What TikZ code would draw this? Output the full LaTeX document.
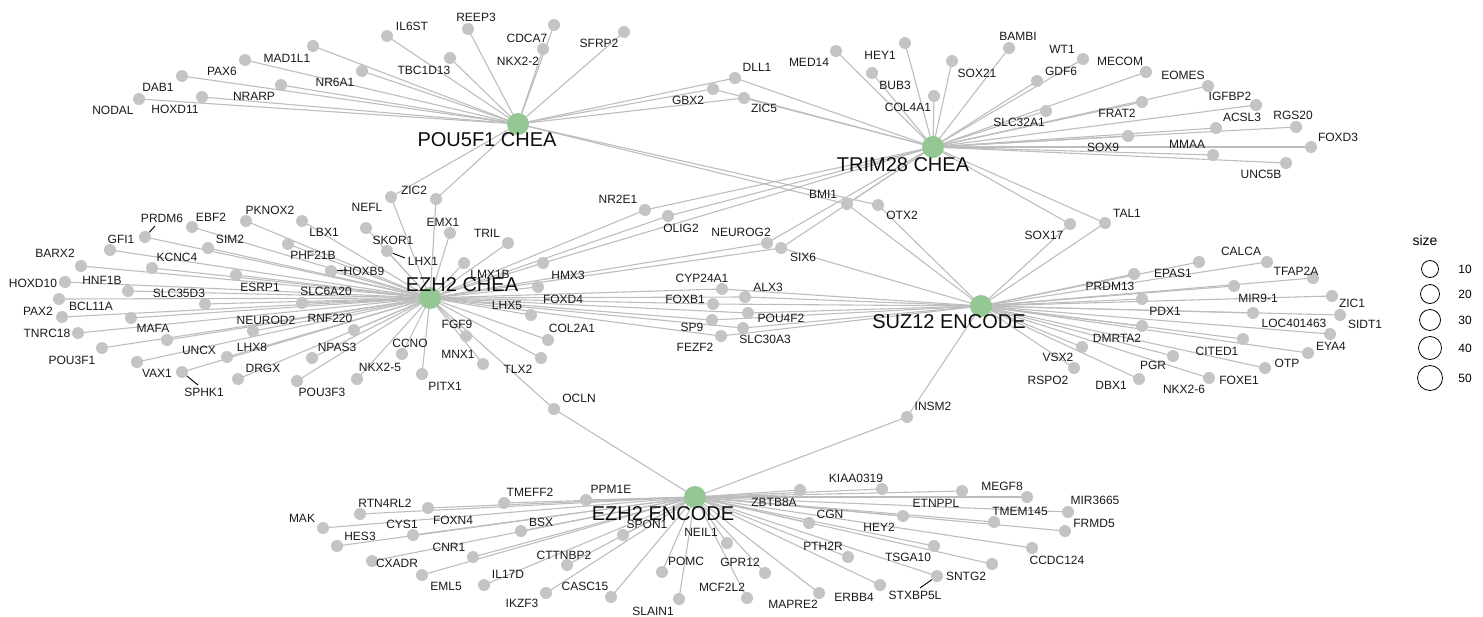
\documentclass[tikz,border=0pt]{standalone}
\usepackage{fontspec}
\setmainfont{Liberation Sans}
\definecolor{nodegray}{HTML}{C4C4C4}
\definecolor{edgegray}{HTML}{BDBDBD}
\definecolor{hubgreen}{HTML}{95C795}
\pgfdeclarelayer{bg}
\pgfsetlayers{bg,main}
\tikzset{
 gene/.style={circle, fill=nodegray, inner sep=0pt, minimum size=12pt},
 hub/.style={circle, fill=hubgreen, inner sep=0pt, minimum size=22pt},
 lab/.style={font=\fontsize{12}{12}\selectfont, inner sep=0pt, text=black!90},
 hublab/.style={font=\fontsize{20}{22}\selectfont, inner sep=0pt, text=black!95},
 edge/.style={draw=edgegray, line width=1.1pt},
 seg/.style={draw=black, line width=0.9pt},
 legcirc/.style={circle, draw=black, line width=0.8pt, fill=white, inner sep=0pt},
 leglab/.style={font=\fontsize{12}{12}\selectfont, inner sep=0pt},
}
\begin{document}
\begin{tikzpicture}[x=1pt,y=-1pt]
\useasboundingbox (0,0) rectangle (1483,616);
% hubs
\node[hub] (P) at (518,124) {};
\node[hub] (T) at (933,147) {};
\node[hub] (E) at (430,298) {};
\node[hub] (S) at (981,306) {};
\node[hub] (EE) at (695,497) {};
% ---------- POU5F1 leaves
\node[gene] (MAD1L1) at (313,46) {};   \node[lab] (MAD1L1-l) at (287,58) {MAD1L1};
\node[gene] (PAX6) at (245,60) {};     \node[lab] (PAX6-l) at (222,71) {PAX6};
\node[gene] (DAB1) at (182,76) {};     \node[lab] (DAB1-l) at (158,87) {DAB1};
\node[gene] (NODAL) at (139,99) {};    \node[lab] (NODAL-l) at (113,110) {NODAL};
\node[gene] (HOXD11) at (202,97) {};   \node[lab] (HOXD11-l) at (175,109) {HOXD11};
\node[gene] (NRARP) at (281,85) {};    \node[lab] (NRARP-l) at (254,96) {NRARP};
\node[gene] (NR6A1) at (362,71) {};    \node[lab] (NR6A1-l) at (335,82) {NR6A1};
\node[gene] (IL6ST) at (387,36) {};    \node[lab] (IL6ST-l) at (412,26) {IL6ST};
\node[gene] (REEP3) at (468,29) {};    \node[lab] (REEP3-l) at (476,17) {REEP3};
\node[gene] (CDCA7) at (554,25) {};    \node[lab] (CDCA7-l) at (527,38) {CDCA7};
\node[gene] (NKX2-2) at (543,49) {};   \node[lab] (NKX2-2-l) at (518,61) {NKX2-2};
\node[gene] (SFRP2) at (624,32) {};    \node[lab] (SFRP2-l) at (599,43) {SFRP2};
\node[gene] (TBC1D13) at (450,58) {};  \node[lab] (TBC1D13-l) at (424,70) {TBC1D13};
\node[gene] (DLL1) at (735,78) {};     \node[lab] (DLL1-l) at (757,67) {DLL1};
\node[gene] (GBX2) at (713,89) {};     \node[lab] (GBX2-l) at (688,100) {GBX2};
\node[gene] (ZIC5) at (744,98) {};     \node[lab] (ZIC5-l) at (764,108) {ZIC5};
\node[gene] (ZIC2) at (436,199) {};    \node[lab] (ZIC2-l) at (414,190) {ZIC2};
\node[gene] (NEFL) at (391,197) {};    \node[lab] (NEFL-l) at (367,207) {NEFL};
\node[gene] (BMI1) at (847,204) {};    \node[lab] (BMI1-l) at (823,194) {BMI1};
\node[gene] (OTX2) at (878,205) {};    \node[lab] (OTX2-l) at (902,215) {OTX2};
% ---------- TRIM28 leaves
\node[gene] (MED14) at (836,51) {};    \node[lab] (MED14-l) at (809,62) {MED14};
\node[gene] (HEY1) at (905,43) {};     \node[lab] (HEY1-l) at (880,55) {HEY1};
\node[gene] (BUB3) at (872,73) {};     \node[lab] (BUB3-l) at (895,85) {BUB3};
\node[gene] (COL4A1) at (934,96) {};   \node[lab] (COL4A1-l) at (908,107) {COL4A1};
\node[gene] (SOX21) at (952,61) {};    \node[lab] (SOX21-l) at (977,73) {SOX21};
\node[gene] (BAMBI) at (1009,48) {};   \node[lab] (BAMBI-l) at (1018,36) {BAMBI};
\node[gene] (WT1) at (1083,59) {};     \node[lab] (WT1-l) at (1062,49) {WT1};
\node[gene] (GDF6) at (1037,81) {};    \node[lab] (GDF6-l) at (1061,71) {GDF6};
\node[gene] (MECOM) at (1146,72) {};   \node[lab] (MECOM-l) at (1120,61) {MECOM};
\node[gene] (SLC32A1) at (1046,111) {};\node[lab] (SLC32A1-l) at (1019,122) {SLC32A1};
\node[gene] (FRAT2) at (1142,102) {};  \node[lab] (FRAT2-l) at (1117,113) {FRAT2};
\node[gene] (EOMES) at (1208,86) {};   \node[lab] (EOMES-l) at (1183,75) {EOMES};
\node[gene] (IGFBP2) at (1256,105) {}; \node[lab] (IGFBP2-l) at (1230,96) {IGFBP2};
\node[gene] (ACSL3) at (1216,128) {};  \node[lab] (ACSL3-l) at (1242,117) {ACSL3};
\node[gene] (RGS20) at (1296,127) {};  \node[lab] (RGS20-l) at (1293,115) {RGS20};
\node[gene] (FOXD3) at (1311,147) {};  \node[lab] (FOXD3-l) at (1338,137) {FOXD3};
\node[gene] (MMAA) at (1213,155) {};   \node[lab] (MMAA-l) at (1187,144) {MMAA};
\node[gene] (UNC5B) at (1286,163) {};  \node[lab] (UNC5B-l) at (1261,174) {UNC5B};
\node[gene] (SOX9) at (1128,136) {};   \node[lab] (SOX9-l) at (1103,147) {SOX9};
\node[gene] (SOX17) at (1070,224) {};  \node[lab] (SOX17-l) at (1044,235) {SOX17};
\node[gene] (TAL1) at (1105,223) {};   \node[lab] (TAL1-l) at (1127,213) {TAL1};
\node[gene] (NR2E1) at (645,210) {};   \node[lab] (NR2E1-l) at (618,199) {NR2E1};
\node[gene] (OLIG2) at (668,216) {};   \node[lab] (OLIG2-l) at (681,228) {OLIG2};
\node[gene] (HMX3) at (543,263) {};    \node[lab] (HMX3-l) at (568,275) {HMX3};
\node[gene] (NEUROG2) at (767,243) {}; \node[lab] (NEUROG2-l) at (741,232) {NEUROG2};
\node[gene] (SIX6) at (781,248) {};    \node[lab] (SIX6-l) at (803,257) {SIX6};
% ---------- EZH2 CHEA leaves
\node[gene] (LMX1B) at (464,263) {};   \node[lab] (LMX1B-l) at (490,274) {LMX1B};
\node[gene] (EMX1) at (450,233) {};    \node[lab] (EMX1-l) at (443,222) {EMX1};
\node[gene] (TRIL) at (508,243) {};    \node[lab] (TRIL-l) at (487,233) {TRIL};
\node[gene] (SKOR1) at (366,228) {};   \node[lab] (SKOR1-l) at (393,240) {SKOR1};
\node[gene] (LHX1) at (387,251) {};    \node[lab] (LHX1-l) at (423,261) {LHX1};
\node[gene] (LBX1) at (302,221) {};    \node[lab] (LBX1-l) at (324,232) {LBX1};
\node[gene] (PKNOX2) at (246,221) {};  \node[lab] (PKNOX2-l) at (270,210) {PKNOX2};
\node[gene] (EBF2) at (192,227) {};    \node[lab] (EBF2-l) at (211,217) {EBF2};
\node[gene] (PRDM6) at (145,237) {};   \node[lab] (PRDM6-l) at (162,218) {PRDM6};
\node[gene] (GFI1) at (110,250) {};    \node[lab] (GFI1-l) at (121,239) {GFI1};
\node[gene] (SIM2) at (208,248) {};    \node[lab] (SIM2-l) at (230,239) {SIM2};
\node[gene] (BARX2) at (81,266) {};    \node[lab] (BARX2-l) at (55,253) {BARX2};
\node[gene] (KCNC4) at (152,268) {};   \node[lab] (KCNC4-l) at (177,257) {KCNC4};
\node[gene] (PHF21B) at (288,244) {};  \node[lab] (PHF21B-l) at (313,255) {PHF21B};
\node[gene] (HOXB9) at (331,271) {};   \node[lab] (HOXB9-l) at (364,271) {HOXB9};
\node[gene] (HOXD10) at (65,282) {};   \node[lab] (HOXD10-l) at (33,283) {HOXD10};
\node[gene] (HNF1B) at (128,291) {};   \node[lab] (HNF1B-l) at (102,280) {HNF1B};
\node[gene] (ESRP1) at (236,275) {};   \node[lab] (ESRP1-l) at (260,287) {ESRP1};
\node[gene] (SLC35D3) at (205,304) {}; \node[lab] (SLC35D3-l) at (179,293) {SLC35D3};
\node[gene] (SLC6A20) at (302,303) {}; \node[lab] (SLC6A20-l) at (326,291) {SLC6A20};
\node[gene] (BCL11A) at (59,299) {};   \node[lab] (BCL11A-l) at (91,306) {BCL11A};
\node[gene] (PAX2) at (62,317) {};     \node[lab] (PAX2-l) at (38,311) {PAX2};
\node[gene] (TNRC18) at (78,333) {};   \node[lab] (TNRC18-l) at (47,333) {TNRC18};
\node[gene] (MAFA) at (131,318) {};    \node[lab] (MAFA-l) at (153,328) {MAFA};
\node[gene] (UNCX) at (167,340) {};    \node[lab] (UNCX-l) at (199,350) {UNCX};
\node[gene] (POU3F1) at (102,348) {};  \node[lab] (POU3F1-l) at (72,360) {POU3F1};
\node[gene] (VAX1) at (137,362) {};    \node[lab] (VAX1-l) at (157,373) {VAX1};
\node[gene] (LHX8) at (227,357) {};    \node[lab] (LHX8-l) at (252,347) {LHX8};
\node[gene] (SPHK1) at (182,372) {};   \node[lab] (SPHK1-l) at (204,392) {SPHK1};
\node[gene] (DRGX) at (238,379) {};    \node[lab] (DRGX-l) at (263,368) {DRGX};
\node[gene] (NEUROD2) at (253,331) {}; \node[lab] (NEUROD2-l) at (266,320) {NEUROD2};
\node[gene] (RNF220) at (354,330) {};  \node[lab] (RNF220-l) at (330,318) {RNF220};
\node[gene] (NPAS3) at (312,358) {};   \node[lab] (NPAS3-l) at (337,347) {NPAS3};
\node[gene] (POU3F3) at (297,381) {};  \node[lab] (POU3F3-l) at (322,392) {POU3F3};
\node[gene] (NKX2-5) at (357,379) {};  \node[lab] (NKX2-5-l) at (380,367) {NKX2-5};
\node[gene] (CCNO) at (402,354) {};    \node[lab] (CCNO-l) at (410,343) {CCNO};
\node[gene] (PITX1) at (422,374) {};   \node[lab] (PITX1-l) at (445,386) {PITX1};
\node[gene] (FGF9) at (466,336) {};    \node[lab] (FGF9-l) at (457,324) {FGF9};
\node[gene] (MNX1) at (483,364) {};    \node[lab] (MNX1-l) at (458,354) {MNX1};
\node[gene] (TLX2) at (541,358) {};    \node[lab] (TLX2-l) at (518,369) {TLX2};
\node[gene] (COL2A1) at (548,340) {};  \node[lab] (COL2A1-l) at (572,328) {COL2A1};
\node[gene] (LHX5) at (531,315) {};    \node[lab] (LHX5-l) at (507,305) {LHX5};
\node[gene] (FOXD4) at (538,287) {};   \node[lab] (FOXD4-l) at (563,299) {FOXD4};
% bridges E-S
\node[gene] (CYP24A1) at (722,289) {}; \node[lab] (CYP24A1-l) at (702,278) {CYP24A1};
\node[gene] (FOXB1) at (713,304) {};   \node[lab] (FOXB1-l) at (685,299) {FOXB1};
\node[gene] (SP9) at (712,320) {};     \node[lab] (SP9-l) at (692,327) {SP9};
\node[gene] (FEZF2) at (721,336) {};   \node[lab] (FEZF2-l) at (695,347) {FEZF2};
\node[gene] (ALX3) at (745,297) {};    \node[lab] (ALX3-l) at (768,287) {ALX3};
\node[gene] (POU4F2) at (748,313) {};  \node[lab] (POU4F2-l) at (781,318) {POU4F2};
\node[gene] (SLC30A3) at (743,328) {}; \node[lab] (SLC30A3-l) at (765,339) {SLC30A3};
\node[gene] (OCLN) at (554,409) {};    \node[lab] (OCLN-l) at (579,398) {OCLN};
\node[gene] (INSM2) at (907,417) {};   \node[lab] (INSM2-l) at (933,406) {INSM2};
% ---------- SUZ12 leaves
\node[gene] (PRDM13) at (1134,274) {}; \node[lab] (PRDM13-l) at (1110,286) {PRDM13};
\node[gene] (EPAS1) at (1199,262) {};  \node[lab] (EPAS1-l) at (1173,273) {EPAS1};
\node[gene] (CALCA) at (1267,262) {};  \node[lab] (CALCA-l) at (1241,251) {CALCA};
\node[gene] (TFAP2A) at (1313,278) {}; \node[lab] (TFAP2A-l) at (1296,271) {TFAP2A};
\node[gene] (MIR9-1) at (1234,286) {}; \node[lab] (MIR9-1-l) at (1258,298) {MIR9-1};
\node[gene] (ZIC1) at (1332,296) {};   \node[lab] (ZIC1-l) at (1352,303) {ZIC1};
\node[gene] (PDX1) at (1142,299) {};   \node[lab] (PDX1-l) at (1165,311) {PDX1};
\node[gene] (LOC401463) at (1253,313) {}; \node[lab] (LOC401463-l) at (1294,323) {LOC401463};
\node[gene] (SIDT1) at (1340,315) {};  \node[lab] (SIDT1-l) at (1365,324) {SIDT1};
\node[gene] (DMRTA2) at (1142,326) {}; \node[lab] (DMRTA2-l) at (1117,338) {DMRTA2};
\node[gene] (CITED1) at (1243,339) {}; \node[lab] (CITED1-l) at (1217,351) {CITED1};
\node[gene] (n1) at (1330,334) {};
\node[gene] (EYA4) at (1308,353) {};   \node[lab] (EYA4-l) at (1331,346) {EYA4};
\node[gene] (PGR) at (1173,356) {};    \node[lab] (PGR-l) at (1153,365) {PGR};
\node[gene] (OTP) at (1265,368) {};    \node[lab] (OTP-l) at (1287,363) {OTP};
\node[gene] (FOXE1) at (1209,378) {};  \node[lab] (FOXE1-l) at (1239,380) {FOXE1};
\node[lab] (NKX2-6-l) at (1184,389) {NKX2-6};
\node[gene] (DBX1) at (1139,379) {};   \node[lab] (DBX1-l) at (1111,385) {DBX1};
\node[gene] (VSX2) at (1082,347) {};   \node[lab] (VSX2-l) at (1058,357) {VSX2};
\node[gene] (RSPO2) at (1074,368) {};  \node[lab] (RSPO2-l) at (1048,380) {RSPO2};
% ---------- EZH2 ENCODE leaves
\node[gene] (TMEFF2) at (504,503) {};  \node[lab] (TMEFF2-l) at (530,492) {TMEFF2};
\node[gene] (PPM1E) at (586,500) {};   \node[lab] (PPM1E-l) at (611,489) {PPM1E};
\node[gene] (RTN4RL2) at (360,514) {}; \node[lab] (RTN4RL2-l) at (385,503) {RTN4RL2};
\node[gene] (MAK) at (323,528) {};     \node[lab] (MAK-l) at (302,518) {MAK};
\node[gene] (HES3) at (337,546) {};    \node[lab] (HES3-l) at (360,536) {HES3};
\node[gene] (CYS1) at (413,535) {};    \node[lab] (CYS1-l) at (402,524) {CYS1};
\node[gene] (FOXN4) at (428,508) {};   \node[lab] (FOXN4-l) at (453,520) {FOXN4};
\node[gene] (BSX) at (521,531) {};     \node[lab] (BSX-l) at (541,522) {BSX};
\node[gene] (CNR1) at (473,557) {};    \node[lab] (CNR1-l) at (449,547) {CNR1};
\node[gene] (CXADR) at (372,561) {};   \node[lab] (CXADR-l) at (397,563) {CXADR};
\node[gene] (EML5) at (422,575) {};    \node[lab] (EML5-l) at (446,586) {EML5};
\node[gene] (IL17D) at (484,585) {};   \node[lab] (IL17D-l) at (508,574) {IL17D};
\node[gene] (CTTNBP2) at (567,565) {}; \node[lab] (CTTNBP2-l) at (564,555) {CTTNBP2};
\node[gene] (IKZF3) at (546,593) {};   \node[lab] (IKZF3-l) at (522,603) {IKZF3};
\node[gene] (CASC15) at (611,597) {};  \node[lab] (CASC15-l) at (585,586) {CASC15};
\node[gene] (SPON1) at (623,535) {};   \node[lab] (SPON1-l) at (647,524) {SPON1};
\node[gene] (NEIL1) at (727,543) {};   \node[lab] (NEIL1-l) at (701,532) {NEIL1};
\node[gene] (POMC) at (662,572) {};    \node[lab] (POMC-l) at (686,561) {POMC};
\node[gene] (SLAIN1) at (679,599) {};  \node[lab] (SLAIN1-l) at (653,611) {SLAIN1};
\node[gene] (GPR12) at (765,573) {};   \node[lab] (GPR12-l) at (740,562) {GPR12};
\node[gene] (MCF2L2) at (747,598) {};  \node[lab] (MCF2L2-l) at (722,587) {MCF2L2};
\node[gene] (MAPRE2) at (819,593) {};  \node[lab] (MAPRE2-l) at (793,604) {MAPRE2};
\node[gene] (ERBB4) at (880,585) {};   \node[lab] (ERBB4-l) at (854,597) {ERBB4};
\node[gene] (SNTG2) at (937,576) {};   \node[lab] (SNTG2-l) at (966,576) {SNTG2};
\node[lab] (STXBP5L-l) at (915,595) {STXBP5L};
\node[gene] (PTH2R) at (848,557) {};   \node[lab] (PTH2R-l) at (823,546) {PTH2R};
\node[gene] (TSGA10) at (934,546) {};  \node[lab] (TSGA10-l) at (908,557) {TSGA10};
\node[gene] (n2) at (992,564) {};
\node[gene] (CCDC124) at (1032,548) {};\node[lab] (CCDC124-l) at (1057,560) {CCDC124};
\node[gene] (HEY2) at (903,516) {};    \node[lab] (HEY2-l) at (879,527) {HEY2};
\node[gene] (CGN) at (809,523) {};     \node[lab] (CGN-l) at (830,514) {CGN};
\node[gene] (ZBTB8A) at (800,490) {};  \node[lab] (ZBTB8A-l) at (774,502) {ZBTB8A};
\node[gene] (KIAA0319) at (882,489) {};\node[lab] (KIAA0319-l) at (856,478) {KIAA0319};
\node[gene] (ETNPPL) at (962,491) {};  \node[lab] (ETNPPL-l) at (936,503) {ETNPPL};
\node[gene] (MEGF8) at (1027,497) {};  \node[lab] (MEGF8-l) at (1002,486) {MEGF8};
\node[gene] (TMEM145) at (994,522) {}; \node[lab] (TMEM145-l) at (1020,511) {TMEM145};
\node[gene] (MIR3665) at (1068,512) {};\node[lab] (MIR3665-l) at (1095,500) {MIR3665};
\node[gene] (FRMD5) at (1065,531) {};  \node[lab] (FRMD5-l) at (1094,523) {FRMD5};
% label pointer segments
\coordinate (PRDM6-s) at (155,226);
\coordinate (HOXB9-s) at (347,270);
\coordinate (LHX1-s) at (405,258);
\coordinate (SPHK1-s) at (198,385);
\coordinate (STXBP5L-s) at (920,588);
\draw[seg] (PRDM6-s) -- (PRDM6);
\draw[seg] (HOXB9-s) -- (HOXB9);
\draw[seg] (LHX1-s) -- (LHX1);
\draw[seg] (SPHK1-s) -- (SPHK1);
\draw[seg] (STXBP5L-s) -- (SNTG2);
% ---------- edges
\begin{pgfonlayer}{bg}
\foreach \g in {MAD1L1,PAX6,DAB1,NODAL,HOXD11,NRARP,NR6A1,IL6ST,REEP3,CDCA7,NKX2-2,SFRP2,TBC1D13,DLL1,GBX2,ZIC5,ZIC2,NEFL,BMI1,OTX2}
  \draw[edge] (P.center) -- (\g.center);
\foreach \g in {MED14,HEY1,BUB3,COL4A1,SOX21,BAMBI,WT1,GDF6,MECOM,SLC32A1,FRAT2,EOMES,IGFBP2,ACSL3,RGS20,FOXD3,MMAA,UNC5B,SOX9,DLL1,GBX2,ZIC5,SOX17,TAL1,NR2E1,OLIG2,HMX3,NEUROG2,SIX6,BMI1}
  \draw[edge] (T.center) -- (\g.center);
\foreach \g in {LMX1B,EMX1,TRIL,SKOR1,LHX1,LBX1,PKNOX2,EBF2,PRDM6,GFI1,SIM2,BARX2,KCNC4,PHF21B,HOXB9,HOXD10,HNF1B,ESRP1,SLC35D3,SLC6A20,BCL11A,PAX2,TNRC18,MAFA,UNCX,POU3F1,VAX1,LHX8,SPHK1,DRGX,NEUROD2,RNF220,NPAS3,POU3F3,NKX2-5,CCNO,PITX1,FGF9,MNX1,TLX2,COL2A1,LHX5,FOXD4,ZIC2,NEFL,NR2E1,OLIG2,HMX3,NEUROG2,SIX6,CYP24A1,FOXB1,SP9,FEZF2,ALX3,POU4F2,SLC30A3,OCLN}
  \draw[edge] (E.center) -- (\g.center);
\foreach \g in {PRDM13,EPAS1,CALCA,TFAP2A,MIR9-1,ZIC1,PDX1,LOC401463,SIDT1,DMRTA2,CITED1,n1,EYA4,PGR,OTP,FOXE1,DBX1,VSX2,RSPO2,SOX17,TAL1,BMI1,OTX2,SIX6,CYP24A1,FOXB1,SP9,FEZF2,ALX3,POU4F2,SLC30A3,INSM2}
  \draw[edge] (S.center) -- (\g.center);
\foreach \g in {TMEFF2,PPM1E,RTN4RL2,MAK,HES3,CYS1,FOXN4,BSX,CNR1,CXADR,EML5,IL17D,CTTNBP2,IKZF3,CASC15,SPON1,NEIL1,POMC,SLAIN1,GPR12,MCF2L2,MAPRE2,ERBB4,SNTG2,PTH2R,TSGA10,n2,CCDC124,HEY2,CGN,ZBTB8A,KIAA0319,ETNPPL,MEGF8,TMEM145,MIR3665,FRMD5,OCLN,INSM2}
  \draw[edge] (EE.center) -- (\g.center);
\end{pgfonlayer}
% hub labels
\node[hublab] (P-l) at (487,140) {POU5F1 CHEA};
\node[hublab] (T-l) at (903,165) {TRIM28 CHEA};
\node[hublab] (E-l) at (462,285) {EZH2 CHEA};
\node[hublab] (S-l) at (949,322) {SUZ12 ENCODE};
\node[hublab] (EE-l) at (663,514) {EZH2 ENCODE};
% legend
\node[font=\fontsize{14}{16}\selectfont, inner sep=0pt] (size-l) at (1425,240) {size};
\node[legcirc, minimum size=17pt] (c10) at (1430,269) {};
\node[legcirc, minimum size=19pt] (c20) at (1430,294) {};
\node[legcirc, minimum size=21pt] (c30) at (1430,320) {};
\node[legcirc, minimum size=23pt] (c40) at (1430,348) {};
\node[legcirc, minimum size=25pt] (c50) at (1430,378) {};
\node[leglab] (c10-l) at (1465,269) {10};
\node[leglab] (c20-l) at (1465,294) {20};
\node[leglab] (c30-l) at (1465,320) {30};
\node[leglab] (c40-l) at (1465,348) {40};
\node[leglab] (c50-l) at (1465,378) {50};
\end{tikzpicture}
\end{document}
